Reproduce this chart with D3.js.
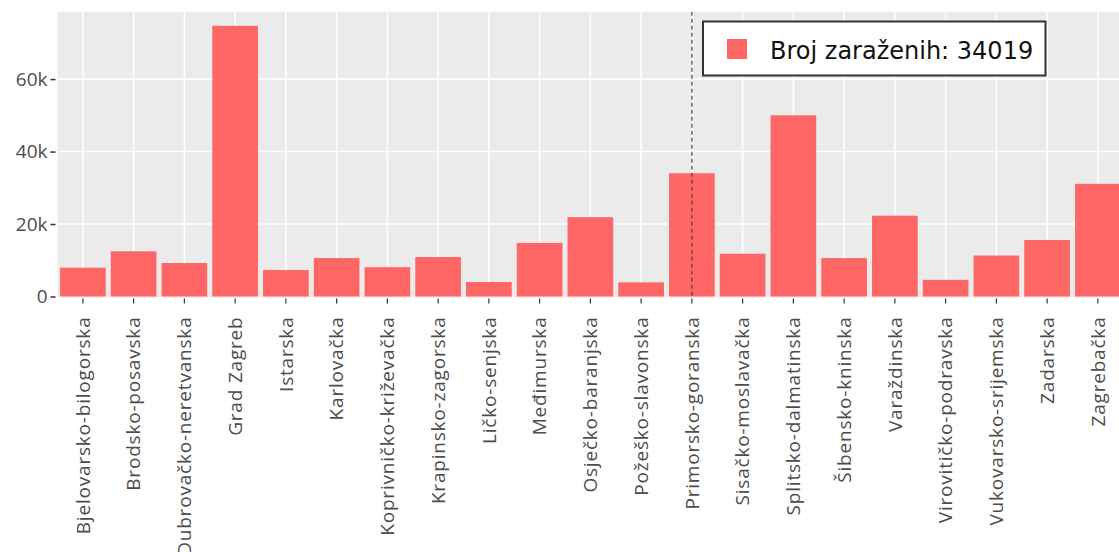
<!DOCTYPE html>
<html>
<head>
<meta charset="utf-8">
<script src="https://cdn.jsdelivr.net/npm/d3@7"></script>
<style>
  body { margin: 0; background: #fff; }
  svg { display: block; }
</style>
</head>
<body>
<div class="chart_frame"></div>
<script>
// counties and number of infected
var zupanije = ['Bjelovarsko-bilogorska', 'Brodsko-posavska', 'Dubrovačko-neretvanska', 'Grad Zagreb',
    'Istarska', 'Karlovačka', 'Koprivničko-križevačka', 'Krapinsko-zagorska', 'Ličko-senjska',
    'Međimurska', 'Osječko-baranjska', 'Požeško-slavonska', 'Primorsko-goranska', 'Sisačko-moslavačka',
    'Splitsko-dalmatinska', 'Šibensko-kninska', 'Varaždinska', 'Virovitičko-podravska',
    'Vukovarsko-srijemska', 'Zadarska', 'Zagrebačka'];
var zarazeni = [7950, 12470, 9240, 74700, 7300, 10600, 8100, 10900, 4000, 14800, 21900, 3900,
    34019, 11800, 50000, 10600, 22300, 4600, 11300, 15600, 31100];
var y_ticks = [0, 20000, 40000, 60000];
var selected = 'Primorsko-goranska';
var legend_label = 'Broj zaraženih: 34019';

var width = 1119, height = 552;
var panel = {'left': 57.5, 'top': 11.7, 'bottom': 296.5},
    step = 50.75;

var svg = d3.select('.chart_frame').append('svg')
    .attr('width', width)
    .attr('height', height);

var x = d3.scaleBand()
    .domain(zupanije)
    .range([panel.left, panel.left + zupanije.length * step])
    .padding(0);

var y = d3.scaleLinear()
    .domain([0, 78600])
    .range([panel.bottom, panel.top]);

// panel background
svg.append('rect')
    .attr('x', panel.left)
    .attr('y', panel.top)
    .attr('width', width - panel.left)
    .attr('height', panel.bottom - panel.top + 1)
    .attr('fill', '#ebebeb');

// grid
var grid = svg.append('g').attr('class', 'grid');
grid.selectAll('line.h').data(y_ticks.slice(1)).enter().append('line')
    .attr('x1', panel.left).attr('x2', width)
    .attr('y1', function(d) { return y(d); }).attr('y2', function(d) { return y(d); })
    .attr('stroke', '#fff').attr('stroke-width', 1.6);
grid.selectAll('line.v').data(zupanije).enter().append('line')
    .attr('x1', function(d) { return x(d) + step / 2; })
    .attr('x2', function(d) { return x(d) + step / 2; })
    .attr('y1', panel.top).attr('y2', panel.bottom)
    .attr('stroke', '#fff').attr('stroke-width', 1.6);

// bars
svg.append('g').selectAll('rect').data(zupanije).enter().append('rect')
    .attr('x', function(d) { return x(d) + step * 0.05; })
    .attr('width', step * 0.9)
    .attr('y', function(d, i) { return y(zarazeni[i]); })
    .attr('height', function(d, i) { return y(0) - y(zarazeni[i]); })
    .attr('fill', '#ff6666');

// dashed marker line
var cx = x(selected) + step / 2;
svg.append('line')
    .attr('x1', cx).attr('x2', cx)
    .attr('y1', panel.top).attr('y2', panel.bottom + 1)
    .attr('stroke', '#444').attr('stroke-width', 1.2)
    .attr('stroke-dasharray', '4,3');

// y axis
var yAxis = svg.append('g')
    .attr('transform', 'translate(' + (panel.left - 2) + ',0)')
    .call(d3.axisLeft(y).tickValues(y_ticks).tickSize(5).tickPadding(3)
        .tickFormat(function(d) { return d === 0 ? '0' : (d / 1000) + 'k'; }));
yAxis.select('.domain').remove();
yAxis.selectAll('line').attr('stroke', '#333').attr('stroke-width', 1.5);
yAxis.selectAll('text')
    .attr('fill', '#4d4d4d')
    .style('font-family', '"Open Sans", sans-serif')
    .style('font-size', '19px');

// x axis
var xAxis = svg.append('g')
    .attr('transform', 'translate(0,' + (panel.bottom + 2) + ')')
    .call(d3.axisBottom(x).tickSize(5).tickPadding(0));
xAxis.select('.domain').remove();
xAxis.selectAll('line').attr('stroke', '#333').attr('stroke-width', 1.2);
xAxis.selectAll('text')
    .attr('fill', '#4d4d4d')
    .style('font-family', '"Open Sans", sans-serif')
    .style('font-size', '19px')
    .style('letter-spacing', '0.8px')
    .attr('text-anchor', 'end')
    .attr('dy', '0.35em')
    .attr('transform', 'translate(0,18) rotate(-90)')
    .attr('x', 0).attr('y', 0);

// legend
var legend = svg.append('g').attr('class', 'legend');
legend.append('rect')
    .attr('x', 703).attr('y', 21.5)
    .attr('width', 342.5).attr('height', 54)
    .attr('fill', '#fff')
    .attr('stroke', '#333').attr('stroke-width', 2);
legend.append('rect')
    .attr('x', 727).attr('y', 39)
    .attr('width', 20).attr('height', 20)
    .attr('fill', '#ff6666');
legend.append('text')
    .attr('x', 770).attr('y', 59)
    .attr('fill', '#111')
    .style('font-family', '"DejaVu Sans", Verdana, sans-serif')
    .style('font-size', '24px')
    .text(legend_label);
</script>
</body>
</html>
